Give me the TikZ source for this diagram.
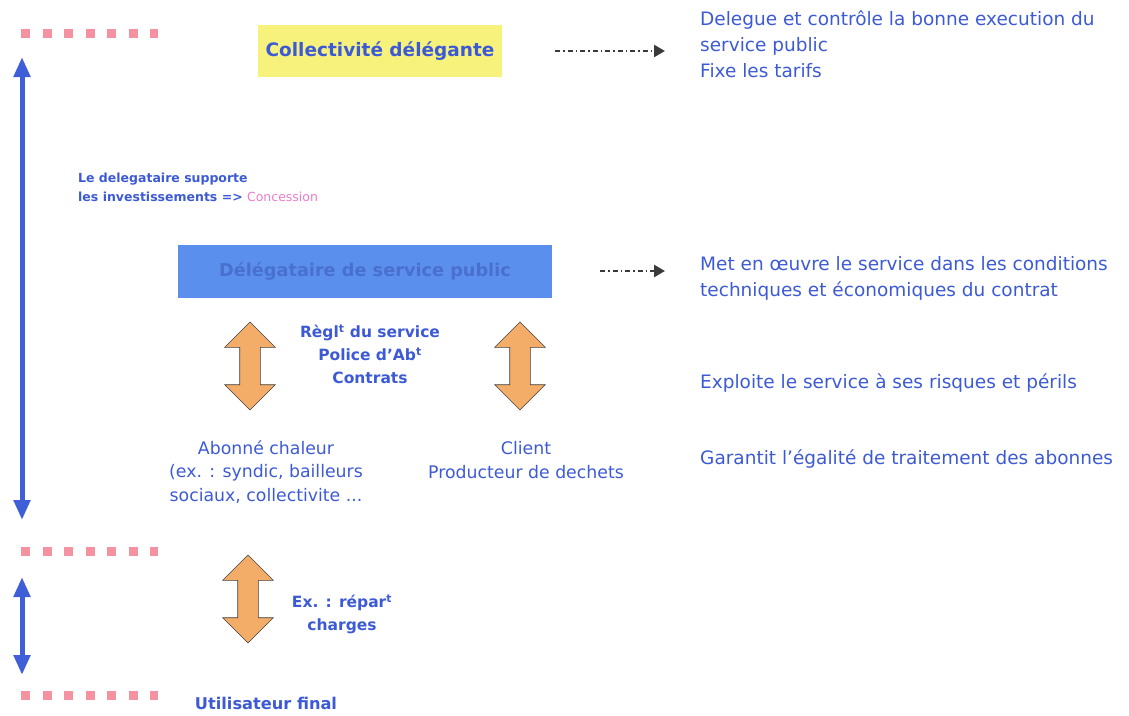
\documentclass[tikz,border=0pt]{standalone}
\usepackage{fontspec}
\setmainfont{DejaVu Sans}
\usepackage{tikz}
\usetikzlibrary{arrows.meta,shapes.arrows}
\definecolor{textblue}{HTML}{3D5AD6}
\definecolor{axisblue}{HTML}{3F5FD8}
\definecolor{boxyellow}{HTML}{F6F27C}
\definecolor{boxblue}{HTML}{5B8FEE}
\definecolor{boxbluetext}{HTML}{4A70CF}
\definecolor{dotpink}{HTML}{F592A2}
\definecolor{concpink}{HTML}{EE7CCB}
\definecolor{arroworange}{HTML}{F3AD68}
\definecolor{linkgray}{HTML}{3A3A3A}

\tikzset{
  rolebox/.style={anchor=west, inner sep=0pt, align=left, font=\fontsize{18.5}{26}\selectfont\color{textblue}},
  partybox/.style={align=center, inner sep=0pt, font=\fontsize{17.3}{23.5}\selectfont\color{textblue}},
  linkbox/.style={align=center, inner sep=0pt, font=\fontsize{15.5}{23}\selectfont\bfseries\color{textblue}},
  orangearrow/.style={double arrow, draw=black!75, line width=0.6pt, fill=arroworange, rotate=90,
    minimum height=88pt, minimum width=50pt, inner sep=10pt, double arrow head extend=15pt},
  limitline/.style={dotpink, line width=9pt, dash pattern=on 9pt off 12.5pt},
  axisarrow/.style={{Triangle[length=20pt,width=16pt]}-{Triangle[length=20pt,width=16pt]}, axisblue, line width=5pt},
  rolelink/.style={-{Triangle[length=11pt,width=12pt]}, linkgray, line width=2.5pt, dash pattern=on 5pt off 3pt on 1.5pt off 3pt}
}

\begin{document}
\begin{tikzpicture}[x=1pt, y=-1pt]
\useasboundingbox (0,0) rectangle (1129,715);

% Limits
\coordinate (lim1a) at (21,33);  \coordinate (lim1b) at (158,33);
\coordinate (lim2a) at (21,551); \coordinate (lim2b) at (158,551);
\coordinate (lim3a) at (21,695); \coordinate (lim3b) at (158,695);
\draw[limitline] (lim1a) -- (lim1b);
\draw[limitline] (lim2a) -- (lim2b);
\draw[limitline] (lim3a) -- (lim3b);

% Vertical axes
\coordinate (ax1top) at (22,57);  \coordinate (ax1bot) at (22,520);
\coordinate (ax2top) at (22,577); \coordinate (ax2bot) at (22,675);
\draw[axisarrow] (ax1bot) -- (ax1top);
\draw[axisarrow] (ax2bot) -- (ax2top);

% Main boxes
\node[rectangle, fill=boxyellow, minimum width=244pt, minimum height=52pt, inner sep=0pt, font=\fontsize{18.5}{21}\selectfont\bfseries\color{textblue}] (coll) at (380,51) {Collectivité délégante};
\node[rectangle, fill=boxblue, minimum width=374pt, minimum height=53pt, inner sep=0pt, font=\fontsize{17.7}{21}\selectfont\bfseries\color{boxbluetext}] (deleg) at (365,271) {Délégataire de service public};

% Concession note
\node[anchor=west, align=left, inner sep=0pt, font=\fontsize{12.5}{19}\selectfont\bfseries\color{textblue}] (conc) at (78,187) {Le delegataire supporte\\les investissements => {\mdseries\color{concpink}Concession}};

% Roles
\node[rolebox] (role1) at (700,44) {Delegue et contrôle la bonne execution du\\service public\\Fixe les tarifs};
\node[rolebox] (role2) at (700,278) {Met en œuvre le service dans les conditions\\techniques et économiques du contrat};
\node[rolebox] (role3) at (700,383) {Exploite le service à ses risques et périls};
\node[rolebox] (role4) at (700,459) {Garantit l'égalité de traitement des abonnes};

\draw[rolelink, shorten <=53pt, shorten >=35pt] (coll.east) -- (role1.west |- coll.east);
\draw[rolelink, shorten <=48pt, shorten >=35pt] (deleg.east) -- (role2.west |- deleg.east);

% Relations
\node[orangearrow] (rel1) at (250,366) {};
\node[orangearrow] (rel2) at (520,366) {};
\node[orangearrow] (rel3) at (248,599) {};
\node[linkbox] (regl) at (370,354) {Règl\textsuperscript{t} du service\\Police d'Ab\textsuperscript{t}\\Contrats};
\node[linkbox] (repart) at (342,614) {Ex. : répar\textsuperscript{t}\\charges};

% Parties
\node[partybox] (abonne) at (266,472) {Abonné chaleur\\(ex. : syndic, bailleurs\\sociaux, collectivite ...};
\node[partybox] (client) at (526,460) {Client\\Producteur de dechets};
\node[linkbox, font=\fontsize{16.2}{19}\selectfont\bfseries\color{textblue}] (final) at (266,703) {Utilisateur final};

\end{tikzpicture}
\end{document}
